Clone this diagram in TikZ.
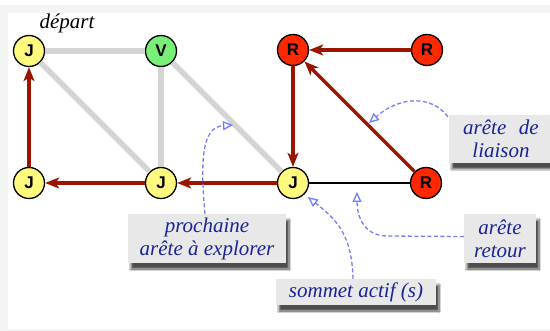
\documentclass[tikz,border=0pt]{standalone}
\usepackage{fontspec}
\newfontfamily\nodefont{Liberation Sans}
\newfontfamily\callfont{Liberation Serif}
\usetikzlibrary{arrows.meta,shadows.blur}
\definecolor{cyel}{RGB}{255,250,125}
\definecolor{cgrn}{RGB}{120,240,120}
\definecolor{cred}{RGB}{255,40,0}
\definecolor{cdred}{RGB}{155,20,0}
\definecolor{cgray}{RGB}{212,212,212}
\definecolor{cbox}{RGB}{232,232,232}
\definecolor{ctxt}{RGB}{25,35,150}
\definecolor{cdash}{RGB}{115,125,255}
\definecolor{cbg}{RGB}{244,244,244}
\tikzset{
  vtx/.style={circle,draw=black,line width=1.3pt,inner sep=0pt,minimum size=31pt,
    font=\nodefont\bfseries\fontsize{17}{17}\selectfont},
  yel/.style={vtx,fill=cyel},
  grn/.style={vtx,fill=cgrn},
  rd/.style={vtx,fill=cred},
  grayedge/.style={cgray,line width=5.5pt},
  tree/.style={cdred,line width=3.5pt,-{Stealth[length=14pt,width=11pt,inset=3.5pt]}},
  back/.style={black,line width=1.2pt},
  callout/.style={fill=cbox,text=ctxt,align=center,inner sep=0pt,
    font=\callfont\itshape\fontsize{21}{23}\selectfont,
    blur shadow={shadow xshift=3pt,shadow yshift=-6pt,shadow blur steps=8,shadow opacity=70}},
  pointer/.style={cdash,line width=1.3pt,dash pattern=on 4pt off 2.5pt,
    -{Triangle[open,length=10pt,width=9pt,line width=1.3pt]}},
}
\begin{document}
\begin{tikzpicture}[x=1pt,y=-1pt]
\useasboundingbox (0,0) rectangle (550,331);
\fill[cbg] (0,5) rectangle (550,331);
\fill[white] (8,13) rectangle (550,329);
% vertices
\node[yel] (j0) at (29,51) {J};
\node[grn] (v) at (161,51) {V};
\node[rd] (rtl) at (293,50) {R};
\node[rd] (rtr) at (427,50) {R};
\node[yel] (jbl) at (29,183) {J};
\node[yel] (j1) at (161,183) {J};
\node[yel] (js) at (293,183) {J};
\node[rd] (rbr) at (426,183) {R};
% gray edges
\draw[grayedge] (j0) -- (v);
\draw[grayedge] (j0) -- (j1);
\draw[grayedge] (v) -- (j1);
\draw[grayedge] (v) -- (js);
% tree edges
\draw[tree] (jbl) -- (j0);
\draw[tree] (j1) -- (jbl);
\draw[tree] (js) -- (j1);
\draw[tree] (rtr) -- (rtl);
\draw[tree] (rtl) -- (js);
\draw[tree] (rbr) -- (rtl);
\draw[back] (js) -- (rbr);
% label
\node[anchor=base,font=\callfont\itshape\fontsize{21}{23}\selectfont,inner sep=0pt] (dep) at (67,29) {départ};
% callouts
\node[callout,minimum width=104pt,minimum height=48pt] (lia) at (501,139) {arête\hspace{0.6em}de\\liaison};
\node[callout,minimum width=158pt,minimum height=49pt] (proch) at (207,238.5) {prochaine\\arête à explorer};
\node[callout,minimum width=72pt,minimum height=49pt] (ret) at (500,238.5) {arête\\retour};
\node[callout,minimum width=160pt,minimum height=26pt] (somm) at (356,292) {sommet actif (s)};
% pointers
\coordinate (t1) at (369,123);
\coordinate (t2) at (233,125);
\coordinate (t3) at (308,197);
\coordinate (t4) at (357,192);
\draw[pointer] ([xshift=-1pt,yshift=-2pt]lia.north west) .. controls (432,95) and (400,96) .. (t1);
\draw[pointer] ([xshift=-2pt]proch.north) .. controls (199,150) and (205,127) .. (t2);
\draw[pointer] ([xshift=-3pt]somm.north) .. controls (352,232) and (334,218) .. (t3);
\draw[pointer] ([yshift=2pt]ret.west) -- (386,236) .. controls (362,235) and (357,214) .. (t4);
\end{tikzpicture}
\end{document}
